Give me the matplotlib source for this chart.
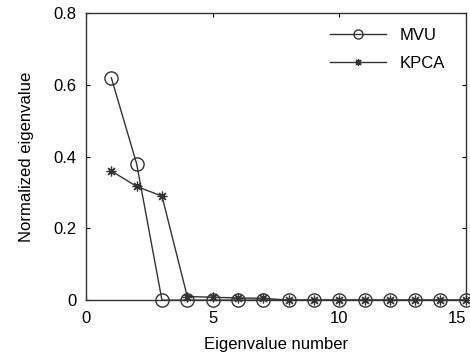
"""
plot.py
Normalized eigenvalue spectrum, MVU vs KPCA
"""

import numpy as np
import matplotlib
matplotlib.use('Agg')
import matplotlib.pyplot as plt

plt.rcParams['font.family'] = ['Liberation Sans', 'DejaVu Sans']

# Data
eig_num = list(range(1, 16))
mvu = [0.62, 0.38, 0, 0, 0, 0, 0, 0, 0, 0, 0, 0, 0, 0, 0]
kpca = [0.36, 0.317, 0.29, 0.01, 0.008, 0.006, 0.005, 0, 0, 0, 0, 0, 0, 0, 0]
xticks = [0, 5, 10, 15]
yticks = [0, 0.2, 0.4, 0.6, 0.8]
yticklabels = ['0', '0.2', '0.4', '0.6', '0.8']

fig = plt.figure(figsize=(4.7, 3.56), dpi=100)
ax = fig.add_axes([0.183, 0.157, 0.808, 0.806])

col = '0.2'
ax.plot(eig_num, mvu, color=col, lw=1.0, marker='o', ms=9.5, mfc='none',
        mec=col, mew=1.0, label='MVU', clip_on=False, zorder=3)
ax.plot(eig_num, kpca, color=col, lw=1.0, marker=(8, 2, 0), ms=7,
        mec=col, mew=0.9, label='KPCA', clip_on=False, zorder=3)

ax.set_xlim(0, 15)
ax.set_ylim(0, 0.8)
ax.set_xticks(xticks)
ax.set_yticks(yticks)
ax.set_yticklabels(yticklabels)
ax.tick_params(direction='in', top=True, right=True, length=3, width=0.8,
               labelsize=12, colors='black')
ax.tick_params(axis='x', pad=8)
ax.tick_params(axis='y', pad=7)
# keep the last x label inside the figure
ax.get_xticklabels()[-1].set_ha('right')
ax.get_xticklabels()[-1].set_x(15.1)
for s in ax.spines.values():
    s.set_linewidth(1.0)
    s.set_color('0.2')

ax.set_xlabel('Eigenvalue number', fontsize=12, labelpad=8)
ax.set_ylabel('Normalized eigenvalue', fontsize=12, labelpad=14)

leg = ax.legend(loc='upper right', frameon=False, fontsize=12, handlelength=3.4,
                borderaxespad=0.5, labelspacing=0.75, handletextpad=0.8,
                bbox_to_anchor=(0.985, 1.0))
leg.legend_handles[0].set_markersize(6.5)
leg.legend_handles[1].set_markersize(5)

plt.savefig('out.png', dpi=100)
